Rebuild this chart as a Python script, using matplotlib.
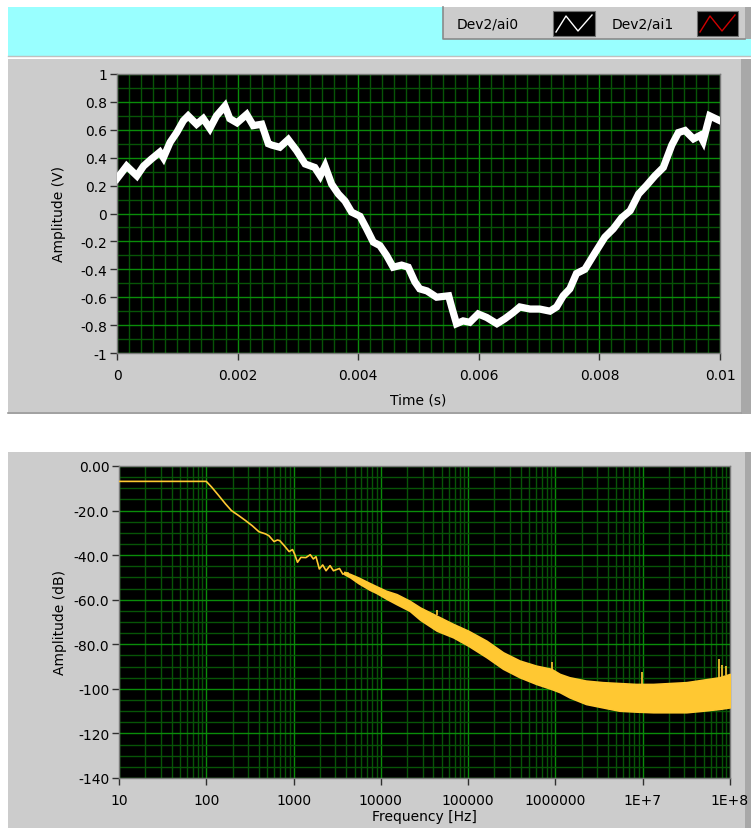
import matplotlib
matplotlib.use("Agg")
import matplotlib.pyplot as plt
from matplotlib.patches import Rectangle
from matplotlib.lines import Line2D
from matplotlib.ticker import FixedLocator, FixedFormatter

# ---------------- data: time-domain trace ----------------
time_s = [0.0, 0.00016, 0.00033, 0.00044, 0.00057, 0.00071, 0.00077, 0.00088,
          0.00099, 0.0011, 0.00118, 0.00132, 0.00143, 0.00154, 0.00165, 0.00179,
          0.00187, 0.00199, 0.00215, 0.00226, 0.0024, 0.00251, 0.00257, 0.0027,
          0.00284, 0.00298, 0.00312, 0.00328, 0.00337, 0.00345, 0.00356, 0.00367,
          0.00378, 0.00389, 0.00403, 0.00414, 0.00425, 0.00436, 0.00447, 0.00458,
          0.00472, 0.00483, 0.00494, 0.00502, 0.00514, 0.0053, 0.0055, 0.00555,
          0.00563, 0.00574, 0.00585, 0.00599, 0.00613, 0.0063, 0.00643, 0.00657,
          0.00668, 0.00685, 0.00701, 0.00718, 0.00729, 0.0074, 0.00751, 0.00762,
          0.00776, 0.00793, 0.00809, 0.00823, 0.00837, 0.00851, 0.00865, 0.00878,
          0.00892, 0.00906, 0.0092, 0.00931, 0.00942, 0.00956, 0.00967, 0.00972,
          0.00983, 0.01]
amplitude_v = [0.25, 0.34, 0.27, 0.34, 0.39, 0.44, 0.40, 0.51,
               0.58, 0.665, 0.70, 0.64, 0.68, 0.61, 0.70, 0.77,
               0.68, 0.65, 0.71, 0.63, 0.64, 0.50, 0.49, 0.475,
               0.53, 0.45, 0.355, 0.33, 0.27, 0.34, 0.21, 0.14,
               0.09, 0.01, -0.02, -0.11, -0.205, -0.23, -0.30, -0.385,
               -0.37, -0.385, -0.49, -0.54, -0.555, -0.60, -0.59, -0.67,
               -0.79, -0.77, -0.78, -0.72, -0.745, -0.79, -0.755, -0.71,
               -0.67, -0.685, -0.685, -0.70, -0.67, -0.59, -0.54, -0.43,
               -0.40, -0.28, -0.17, -0.11, -0.03, 0.02, 0.14, 0.20,
               0.27, 0.33, 0.49, 0.58, 0.595, 0.535, 0.56, 0.52,
               0.70, 0.665]

time_ticks = [0, 0.002, 0.004, 0.006, 0.008, 0.01]
time_labels = ["0", "0.002", "0.004", "0.006", "0.008", "0.01"]
volt_ticks = [1, 0.8, 0.6, 0.4, 0.2, 0, -0.2, -0.4, -0.6, -0.8, -1]
volt_labels = ["1", "0.8", "0.6", "0.4", "0.2", "0", "-0.2", "-0.4", "-0.6", "-0.8", "-1"]

# ---------------- data: spectrum ----------------
# thin low-frequency part (Hz, dB)
spec_freq = [10, 100, 116, 139, 166, 194, 236, 282, 336, 401, 479, 522, 597,
             653, 695, 780, 889, 973, 1026, 1109, 1213, 1384, 1552, 1683, 1807,
             1972, 2158, 2355, 2618, 2864, 3357, 3664, 4188]
spec_db = [-6.9, -6.9, -9.6, -13.3, -17.0, -20.0, -22.3, -24.5, -26.8, -29.5,
           -30.5, -31.3, -33.9, -33.2, -33.5, -35.7, -38.4, -37.5, -39.5, -43.2,
           -41.0, -41.1, -39.8, -41.7, -40.7, -46.2, -44.4, -47.0, -44.7, -47.0,
           -46.0, -48.5, -48.0]
# noisy broadband part: upper / lower envelope (Hz, dB)
band_freq = [3802, 4467, 5495, 7413, 8913, 11482, 15136, 21380, 28184, 43652,
             67608, 100000, 162181, 251189, 389045, 602560, 891251, 1122018,
             1445440, 2238721, 3467369, 5370318, 8317638, 13182567, 20417379,
             31622777, 48977882, 75857758, 100000000]
band_upper = [-47.5, -48.5, -50.0, -52.5, -54.0, -56.0, -57.5, -60.5, -63.5, -67.2,
              -70.9, -73.9, -78.4, -83.6, -87.3, -89.6, -91.0, -93.3, -94.8, -96.3,
              -97.0, -97.4, -97.8, -97.8, -97.4, -97.0, -95.9, -94.8, -93.3]
band_lower = [-48.5, -50.0, -52.5, -55.5, -57.0, -59.5, -62.0, -65.0, -69.0, -73.9,
              -76.9, -80.6, -85.8, -91.0, -94.8, -97.8, -100.0, -101.5, -103.8, -106.8,
              -108.3, -109.8, -110.2, -110.5, -110.5, -110.5, -109.8, -109.0, -108.3]
spike_freq = [43451, 924698, 9931160, 74473197, 79983425, 89536476]
spike_base = [-67.0, -91.0, -97.8, -95.0, -94.8, -94.0]
spike_top = [-64.5, -88.1, -92.3, -86.6, -89.3, -89.6]

freq_ticks = [10, 100, 1000, 1e4, 1e5, 1e6, 1e7, 1e8]
freq_labels = ["10", "100", "1000", "10000", "100000", "1000000", "1E+7", "1E+8"]
db_ticks = [0, -20, -40, -60, -80, -100, -120, -140]
db_labels = ["0.00", "-20.0", "-40.0", "-60.0", "-80.0", "-100", "-120", "-140"]

legend_names = ["Dev2/ai0", "Dev2/ai1"]
legend_colors = ["white", "#d00000"]

# ---------------- style ----------------
W, H = 751, 829
PANEL = "#cccccc"
PANEL_DARK = "#a8a8a8"
CYAN = "#99ffff"
MAJOR = "#0a8c0a"
MINOR = "#075407"
TRACE_YEL = "#ffc832"
FS = 10

plt.rcParams["font.family"] = ["DejaVu Sans"]
fig = plt.figure(figsize=(W / 100, H / 100), dpi=100)
fig.patch.set_facecolor("white")


def frect(x0, y0, x1, y1, color, z=-10, **kw):
    r = Rectangle((x0 / W, 1 - y1 / H), (x1 - x0) / W, (y1 - y0) / H,
                  transform=fig.transFigure, facecolor=color,
                  edgecolor=kw.pop("ec", "none"), lw=kw.pop("lw", 0), zorder=z, **kw)
    fig.patches.append(r)
    return r


def fline(xs, ys, color, lw=1.0, z=5):
    fig.lines.append(Line2D([x / W for x in xs], [1 - y / H for y in ys],
                            transform=fig.transFigure, color=color, lw=lw, zorder=z))


# backgrounds
frect(8, 8, 751, 57, CYAN)
fline([8, 751], [57, 57], "#c0c0c0", lw=1)
# top panel
frect(8, 60, 741, 415, PANEL)
frect(741, 60, 751, 415, PANEL_DARK)
fline([8, 741], [414, 414], "#9a9a9a", lw=1.2)
# bottom panel
frect(8, 453, 745, 829, PANEL)
frect(745, 453, 751, 829, PANEL_DARK)

# legend box
frect(443, 8, 745, 40, PANEL, z=-5)
frect(745, 8, 751, 40, PANEL_DARK, z=-5)
fline([443, 443, 745], [8, 40, 40], "#8a8a8a", lw=1.2)
fig.text(488 / W, 1 - 24 / H, legend_names[0], ha="center", va="center",
         fontsize=FS, color="black")
fig.text(643 / W, 1 - 24 / H, legend_names[1], ha="center", va="center",
         fontsize=FS, color="black")
for (sx0, sx1), col in zip([(553, 595), (697, 738)], legend_colors):
    frect(sx0, 12, sx1, 37, "black", z=-4, ec="#707070", lw=0.8)
    fline([sx0 + 3, sx0 + 13, sx0 + 25, sx1 - 3],
          [33, 17, 32, 16], col, lw=1.0)


def style_axes(ax):
    ax.set_facecolor("black")
    for s in ax.spines.values():
        s.set_color("#7a7a7a")
        s.set_linewidth(1.0)
    ax.tick_params(which="major", direction="out", length=5, width=1,
                   color="#303030", labelsize=FS, labelcolor="black")
    ax.tick_params(which="minor", length=0)
    ax.tick_params(axis="y", pad=2)
    ax.tick_params(axis="x", pad=6)
    ax.set_axisbelow(True)
    ax.grid(which="minor", color=MINOR, lw=1.0)
    ax.grid(which="major", color=MAJOR, lw=1.0)


# ---------------- top plot ----------------
ax1 = fig.add_axes([117 / W, 1 - 354 / H, 603 / W, 279 / H])
style_axes(ax1)
ax1.plot(time_s, amplitude_v, color="white", lw=5.2, solid_joinstyle="miter",
         zorder=3)
ax1.set_xlim(0, 0.01)
ax1.set_ylim(-1, 1)
ax1.xaxis.set_major_locator(FixedLocator(time_ticks))
ax1.xaxis.set_major_formatter(FixedFormatter(time_labels))
ax1.yaxis.set_major_locator(FixedLocator(volt_ticks))
ax1.yaxis.set_major_formatter(FixedFormatter(volt_labels))
ax1.xaxis.set_minor_locator(FixedLocator([i * 0.0002 for i in range(51)]))
ax1.yaxis.set_minor_locator(FixedLocator([-1 + i * 0.1 for i in range(21)]))
ax1.set_xlabel("Time (s)", fontsize=FS)
ax1.set_ylabel("Amplitude (V)", fontsize=FS)
ax1.xaxis.set_label_coords(0.499, -0.14)
ax1.yaxis.set_label_coords(-0.085, 0.5)

# ---------------- bottom plot ----------------
ax2 = fig.add_axes([119 / W, 1 - 779 / H, 611 / W, 312 / H])
style_axes(ax2)
ax2.set_xscale("log")
ax2.fill_between(band_freq, band_lower, band_upper, color=TRACE_YEL, lw=1.2,
                 edgecolor=TRACE_YEL, zorder=3)
ax2.plot(spec_freq, spec_db, color=TRACE_YEL, lw=1.2, zorder=3)
ax2.vlines(spike_freq, spike_base, spike_top, color=TRACE_YEL, lw=1.2, zorder=3)
ax2.set_xlim(10, 1e8)
ax2.set_ylim(-140, 0)
ax2.xaxis.set_major_locator(FixedLocator(freq_ticks))
ax2.xaxis.set_major_formatter(FixedFormatter(freq_labels))
ax2.yaxis.set_major_locator(FixedLocator(db_ticks))
ax2.yaxis.set_major_formatter(FixedFormatter(db_labels))
ax2.xaxis.set_minor_locator(FixedLocator([m * 10 ** e for e in range(1, 8)
                                          for m in range(2, 10)]))
ax2.yaxis.set_minor_locator(FixedLocator([-140 + 5 * i for i in range(29)]))
ax2.set_xlabel("Frequency [Hz]", fontsize=FS)
ax2.set_ylabel("Amplitude (dB)", fontsize=FS)
ax2.xaxis.set_label_coords(0.5, -0.099)
ax2.yaxis.set_label_coords(-0.085, 0.5)

fig.savefig("out.png", dpi=100)
